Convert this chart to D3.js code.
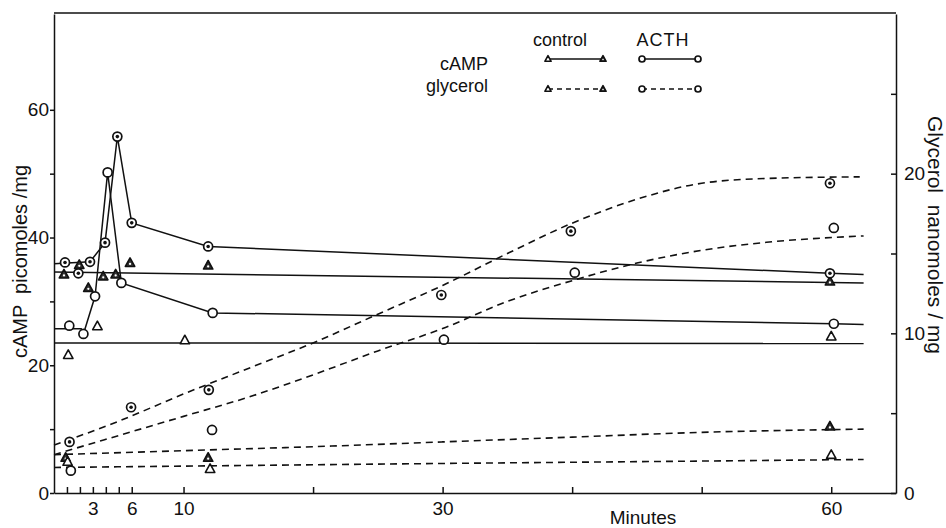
<!DOCTYPE html>
<html>
<head>
<meta charset="utf-8">
<script src="https://cdn.jsdelivr.net/npm/d3@7"></script>
<style>
  body { margin: 0; background: #fff; }
  svg text { font-family: "Liberation Sans", Arial, sans-serif; fill: #111; }
</style>
</head>
<body>
<div id="chart"></div>
<script>
// x values in minutes
const xTicks = [1, 2, 3, 4, 5, 6, 10, 20, 30, 40, 50, 60];
const xTickLabels = [3, 6, 10, 30, 60];
const leftTicks = [0, 10, 20, 30, 40, 50, 60];
const leftTickLabels = [0, 20, 40, 60];
const rightTicks = [0, 5, 10, 15, 20, 25];
const rightTickLabels = [0, 10, 20];

// cAMP (picomoles/mg), left axis. "A" = dotted symbols, "B" = open symbols
const campActhA = [[0.85, 36.1], [1.88, 34.4], [2.78, 36.2], [3.94, 39.2], [4.89, 55.8], [6.0, 42.3], [11.9, 38.6], [59.9, 34.4]];
const campActhALine = [[0, 35.9], [2.78, 36.2], [3.94, 39.2], [4.89, 55.8], [6.0, 42.3], [11.9, 38.6], [59.9, 34.4], [62.5, 34.2]];
const campActhB = [[1.18, 26.2], [2.27, 24.9], [3.17, 30.8], [4.14, 50.2], [5.2, 32.9], [12.25, 28.2], [60.2, 26.5]];
const campActhBLine = [[0, 25.7], [2.1, 25.7], [2.27, 24.9], [3.17, 30.8], [4.14, 50.2], [5.2, 32.9], [12.25, 28.2], [60.2, 26.5], [62.5, 26.4]];
const campControlA = [[0.77, 34.2], [1.95, 35.7], [2.65, 32.1], [3.8, 33.9], [4.76, 34.2], [5.87, 36.0], [11.9, 35.6], [59.9, 33.1]];
const campControlALine = [[0, 34.6], [62.5, 32.9]];
const campControlB = [[1.1, 21.6], [3.35, 26.1], [10.1, 23.9], [60, 24.5]];
const campControlBLine = [[0, 23.5], [62.5, 23.4]];

// glycerol (nanomoles/mg), right axis
const glyActhA = [[1.2, 3.2], [5.95, 5.37], [11.95, 6.46], [29.9, 12.4], [39.9, 16.4], [59.9, 19.4]];
const glyActhACurve = [[0, 3.0], [5, 4.5], [10, 6.2], [15, 7.8], [20, 9.4], [25, 11.2], [30, 13.0], [35, 15.0], [40, 16.9], [45, 18.4], [50, 19.4], [55, 19.7], [62.2, 19.8]];
const glyActhB = [[1.3, 1.4], [12.2, 3.95], [30.1, 9.6], [40.2, 13.8], [60.2, 16.6]];
const glyActhBCurve = [[0, 2.4], [5, 3.6], [10, 4.8], [15, 6.0], [20, 7.4], [25, 8.9], [30, 10.3], [35, 12.0], [40, 13.3], [45, 14.4], [50, 15.2], [55, 15.7], [62.5, 16.1]];
const glyControlA = [[0.9, 2.2], [11.9, 2.2], [59.9, 4.16]];
const glyControlACurve = [[0, 2.4], [12, 2.7], [20, 2.9], [30, 3.2], [40, 3.5], [50, 3.8], [62.5, 4.0]];
const glyControlB = [[1.05, 1.95], [12.05, 1.5], [60, 2.38]];
const glyControlBCurve = [[0, 1.6], [12, 1.7], [30, 1.85], [50, 2.0], [62.5, 2.1]];

const W = 946, H = 528;
const svg = d3.select("#chart").append("svg").attr("width", W).attr("height", H);

const x = d3.scaleLinear().domain([0, 65]).range([54, 896]);
const yL = d3.scaleLinear().domain([0, 75]).range([493, 14]);
const yR = d3.scaleLinear().domain([0, 30]).range([493, 14]);

// frame top
svg.append("line").attr("x1", x(0)).attr("x2", x(65)).attr("y1", 13).attr("y2", 13)
    .attr("stroke", "#111").attr("stroke-width", 1.5);

function styleAxis(g) {
    g.selectAll("path, line").attr("stroke", "#111").attr("stroke-width", 1.5);
    g.selectAll("text").attr("font-size", 19).attr("font-family", "Liberation Sans, Arial, sans-serif").attr("fill", "#111");
}

svg.append("g").attr("transform", `translate(${x(0)},0)`)
    .call(d3.axisLeft(yL).tickValues(leftTicks).tickSize(4).tickSizeOuter(0).tickPadding(1)
        .tickFormat(d => leftTickLabels.includes(d) ? d : ""))
    .call(styleAxis);

svg.append("g").attr("transform", `translate(${x(65)},0)`)
    .call(d3.axisRight(yR).tickValues(rightTicks).tickSize(-5).tickSizeOuter(0).tickPadding(8)
        .tickFormat(d => rightTickLabels.includes(d) ? d : ""))
    .call(styleAxis);

svg.append("g").attr("transform", `translate(0,${yL(0)})`)
    .call(d3.axisBottom(x).tickValues(xTicks).tickSize(-6).tickSizeOuter(0).tickPadding(9)
        .tickFormat(d => xTickLabels.includes(d) ? d : ""))
    .call(styleAxis);

// axis titles
svg.append("text").attr("transform", `translate(27,${(yL(0) + 14) / 2 + 8}) rotate(-90)`)
    .attr("text-anchor", "middle").attr("font-size", 20).attr("xml:space", "preserve")
    .text("cAMP  picomoles /mg");
svg.append("text").attr("transform", `translate(928,${235}) rotate(90)`)
    .attr("text-anchor", "middle").attr("font-size", 21).attr("xml:space", "preserve")
    .text("Glycerol  nanomoles / mg");
svg.append("text").attr("x", 643).attr("y", 524).attr("text-anchor", "middle")
    .attr("font-size", 19).text("Minutes");

// lines
const lineL = d3.line().x(d => x(d[0])).y(d => yL(d[1]));
const curveR = d3.line().x(d => x(d[0])).y(d => yR(d[1])).curve(d3.curveMonotoneX);

const solid = [campControlALine, campControlBLine, campActhALine, campActhBLine];
svg.append("g").selectAll("path").data(solid).join("path")
    .attr("d", lineL).attr("fill", "none").attr("stroke", "#111").attr("stroke-width", 1.5);

const dashed = [glyActhACurve, glyActhBCurve, glyControlACurve, glyControlBCurve];
svg.append("g").selectAll("path").data(dashed).join("path")
    .attr("d", curveR).attr("fill", "none").attr("stroke", "#111").attr("stroke-width", 1.6)
    .attr("stroke-dasharray", "7,5");

// markers
function marker(g, shape, dotted, cx, cy, s) {
    if (shape === "circle") {
        g.append("circle").attr("cx", cx).attr("cy", cy).attr("r", s)
            .attr("fill", "#fff").attr("stroke", "#111").attr("stroke-width", 1.7);
        if (dotted) g.append("circle").attr("cx", cx).attr("cy", cy).attr("r", s * 0.4).attr("fill", "#111");
    } else {
        const h = s * 1.9;
        const p = `M${cx},${cy - h * 0.6}L${cx + h * 0.55},${cy + h * 0.4}L${cx - h * 0.55},${cy + h * 0.4}Z`;
        g.append("path").attr("d", p).attr("fill", dotted ? "#333" : "#fff")
            .attr("stroke", "#111").attr("stroke-width", 1.6).attr("stroke-linejoin", "round");
        if (dotted) g.append("circle").attr("cx", cx).attr("cy", cy + h * 0.1).attr("r", s * 0.25).attr("fill", "#fff");
    }
}

const markerSets = [
    { data: campControlA, y: yL, shape: "tri", dotted: true },
    { data: campControlB, y: yL, shape: "tri", dotted: false },
    { data: campActhA, y: yL, shape: "circle", dotted: true },
    { data: campActhB, y: yL, shape: "circle", dotted: false },
    { data: glyControlA, y: yR, shape: "tri", dotted: true },
    { data: glyControlB, y: yR, shape: "tri", dotted: false },
    { data: glyActhA, y: yR, shape: "circle", dotted: true },
    { data: glyActhB, y: yR, shape: "circle", dotted: false },
];
const mg = svg.append("g");
markerSets.forEach(set => {
    set.data.forEach(d => marker(mg, set.shape, set.dotted, x(d[0]), set.y(d[1]), 4.5));
});

// legend
const lg = svg.append("g");
lg.append("text").attr("x", 560).attr("y", 46).attr("text-anchor", "middle").attr("font-size", 18).text("control");
lg.append("text").attr("x", 663).attr("y", 46).attr("text-anchor", "middle").attr("font-size", 18).attr("letter-spacing", 1).text("ACTH");
lg.append("text").attr("x", 488).attr("y", 70).attr("text-anchor", "end").attr("font-size", 18).text("cAMP");
lg.append("text").attr("x", 488).attr("y", 92).attr("text-anchor", "end").attr("font-size", 18).text("glycerol");
[[59, null], [89, "5,4"]].forEach(([ly, dash]) => {
    [[548, 603, "tri"], [642, 698, "circle"]].forEach(([x1, x2, shape]) => {
        lg.append("line").attr("x1", x1).attr("x2", x2).attr("y1", ly).attr("y2", ly)
            .attr("stroke", "#111").attr("stroke-width", 1.4).attr("stroke-dasharray", dash);
        marker(lg, shape, false, x1, ly, 3);
        marker(lg, shape, shape === "tri", x2, ly, 3);
    });
});
</script>
</body>
</html>
